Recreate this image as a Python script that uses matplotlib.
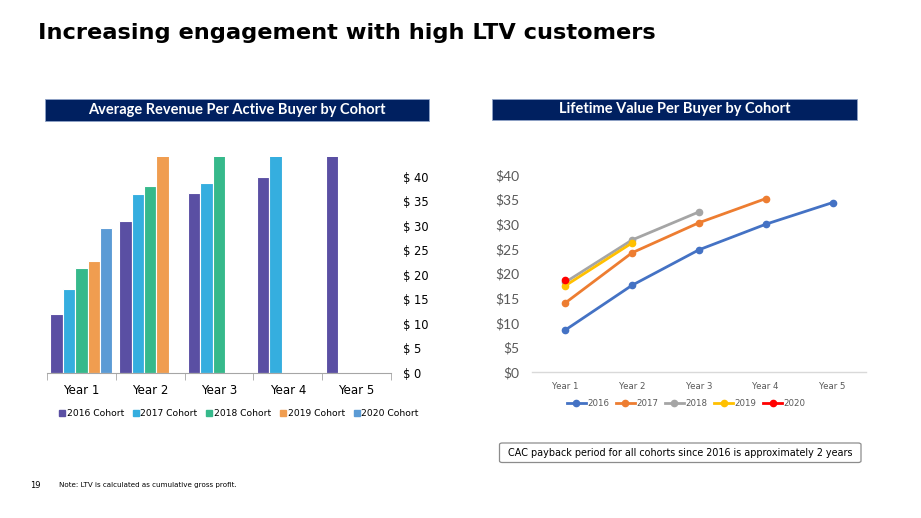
import matplotlib
matplotlib.use("Agg")
import matplotlib.pyplot as plt
import numpy as np
from matplotlib.lines import Line2D
from matplotlib.patches import FancyBboxPatch, Rectangle

# ---- data -------------------------------------------------------------
YEARS = ["Year 1", "Year 2", "Year 3", "Year 4", "Year 5"]
COHORTS = ["2016", "2017", "2018", "2019", "2020"]

# Average revenue per active buyer (bars beyond $44 are cut off in the source)
ARPAB_2016 = [12.0, 31.0, 36.7, 39.9, 46.0]
ARPAB_2017 = [17.1, 36.4, 38.8, 47.0, np.nan]
ARPAB_2018 = [21.3, 38.0, 46.0, np.nan, np.nan]
ARPAB_2019 = [22.8, 45.0, np.nan, np.nan, np.nan]
ARPAB_2020 = [29.6, np.nan, np.nan, np.nan, np.nan]

# Lifetime value per buyer
LTV_2016 = [8.5, 17.6, 24.8, 30.0, 34.4]
LTV_2017 = [14.0, 24.2, 30.3, 35.2, np.nan]
LTV_2018 = [18.2, 26.8, 32.5, np.nan, np.nan]
LTV_2019 = [17.5, 26.2, np.nan, np.nan, np.nan]
LTV_2020 = [18.6, np.nan, np.nan, np.nan, np.nan]

BAR_COLORS = ["#5a4fa3", "#35aedf", "#36b98b", "#f09d50", "#5b9bd5"]
LINE_COLORS = ["#4472c4", "#ed7d31", "#a5a5a5", "#ffc000", "#ff0000"]
NAVY = "#002060"
GREY_TXT = "#595959"

W, H = 921, 518
fig = plt.figure(figsize=(W / 100, H / 100), dpi=100)


def fx(px):
    return px / W


def fy(py):
    return 1 - py / H


# ---- title / headers --------------------------------------------------
fig.text(fx(38), fy(33), "Increasing engagement with high LTV customers",
         ha="left", va="center", fontsize=16.2, fontweight="bold",
         color="black", family="DejaVu Sans")

for (x0, x1, y0, y1, label) in [
        (45, 429, 99.5, 120.5, "Average Revenue Per Active Buyer by Cohort"),
        (492, 857, 99.5, 119.5, "Lifetime Value Per Buyer by Cohort")]:
    fig.patches.append(Rectangle((fx(x0), fy(y1)), fx(x1 - x0), (y1 - y0) / H,
                                 transform=fig.transFigure, fc=NAVY,
                                 ec="#8fa3c7", lw=0.6))
    fig.text(fx((x0 + x1) / 2), fy((y0 + y1) / 2), label, ha="center",
             va="center", fontsize=10.5, fontweight="bold", color="white",
             family="Lato")

# ---- left: clustered bars ---------------------------------------------
ax1 = fig.add_axes([fx(47), fy(373), fx(391 - 47), (373 - 157) / H])
x = np.arange(len(YEARS))
bw = 0.18
bar_series = [ARPAB_2016, ARPAB_2017, ARPAB_2018, ARPAB_2019, ARPAB_2020]
for i, (vals, col) in enumerate(zip(bar_series, BAR_COLORS)):
    ax1.bar(x - 2 * bw + i * bw, vals, width=bw, color=col,
            edgecolor="white", linewidth=0.8, label=f"{COHORTS[i]} Cohort")
ax1.set_xlim(-0.5, 4.5)
ax1.set_ylim(0, 44)
ax1.set_yticks(np.arange(0, 45, 5))
ax1.set_yticklabels([f"$ {v}" for v in range(0, 45, 5)])
ax1.yaxis.tick_right()
ax1.tick_params(axis="y", length=0, pad=8.5, labelsize=8.3, colors="black")
for lab in ax1.get_yticklabels():
    lab.set_horizontalalignment("left")
ax1.set_xticks(x)
ax1.set_xticklabels(YEARS)
ax1.set_xticks(np.arange(-0.5, 5, 1), minor=True)
ax1.tick_params(axis="x", which="major", length=0, pad=8, labelsize=8.5)
ax1.tick_params(axis="x", which="minor", length=5, color="#a6a6a6")
for s in ["top", "right", "left"]:
    ax1.spines[s].set_visible(False)
ax1.spines["bottom"].set_color("#a6a6a6")
for lab in ax1.get_xticklabels() + ax1.get_yticklabels():
    lab.set_family("DejaVu Sans")

h1, l1 = ax1.get_legend_handles_labels()
h1 = [Line2D([], [], marker="s", ls="none", color=c, markersize=4.2)
      for c in BAR_COLORS]
fig.legend(h1, l1, loc="center", bbox_to_anchor=(fx(239), fy(414)),
           ncol=5, frameon=False, handlelength=0.6,
           handletextpad=0.2, columnspacing=1.0,
           prop={"family": "DejaVu Sans", "size": 6.6})

# ---- right: LTV lines -------------------------------------------------
ax2 = fig.add_axes([fx(531.7), fy(372), fx(866 - 531.7), (372 - 175) / H])
line_series = [LTV_2016, LTV_2017, LTV_2018, LTV_2019, LTV_2020]
for vals, col, name in zip(line_series, LINE_COLORS, COHORTS):
    ax2.plot(x, vals, color=col, lw=2.0, marker="o", markersize=4.5,
             label=name, clip_on=False)
ax2.set_xlim(-0.5, 4.5)
ax2.set_ylim(0, 40)
ax2.set_yticks(np.arange(0, 41, 5))
ax2.set_yticklabels([f"${v}" for v in range(0, 41, 5)])
ax2.set_xticks(x)
ax2.set_xticklabels(YEARS)
ax2.tick_params(axis="y", length=0, pad=9, labelsize=10,
                colors=GREY_TXT)
ax2.tick_params(axis="x", length=0, pad=7, labelsize=6.2, colors=GREY_TXT)
for lab in ax2.get_yticklabels():
    lab.set_family("Lato")
for lab in ax2.get_xticklabels():
    lab.set_family("DejaVu Sans")
for s in ["top", "right", "left"]:
    ax2.spines[s].set_visible(False)
ax2.spines["bottom"].set_color("#d9d9d9")
ax2.spines["bottom"].set_linewidth(1.0)

fig.legend(*ax2.get_legend_handles_labels(), loc="center",
           bbox_to_anchor=(fx(686), fy(403.5)), ncol=5, frameon=False,
           handlelength=2.2, handletextpad=0.15, columnspacing=0.8,
           labelcolor=GREY_TXT, prop={"family": "DejaVu Sans", "size": 6.2})

# ---- callout and footer -----------------------------------------------
fig.patches.append(FancyBboxPatch(
    (fx(499.5), fy(462.5)), fx(861 - 499.5), (462.5 - 443) / H,
    boxstyle="round,pad=0,rounding_size=0.003", transform=fig.transFigure,
    fc="white", ec="#8c8c8c", lw=0.9))
fig.text(fx(680), fy(453), "CAC payback period for all cohorts since 2016 "
         "is approximately 2 years", ha="center", va="center",
         fontsize=6.9, color="black", family="DejaVu Sans")

fig.text(fx(30), fy(485), "19", ha="left", va="center", fontsize=6,
         family="DejaVu Sans")
fig.text(fx(59), fy(485), "Note: LTV is calculated as cumulative gross profit.",
         ha="left", va="center", fontsize=5.1, family="DejaVu Sans")

fig.savefig("out.png", dpi=100)
